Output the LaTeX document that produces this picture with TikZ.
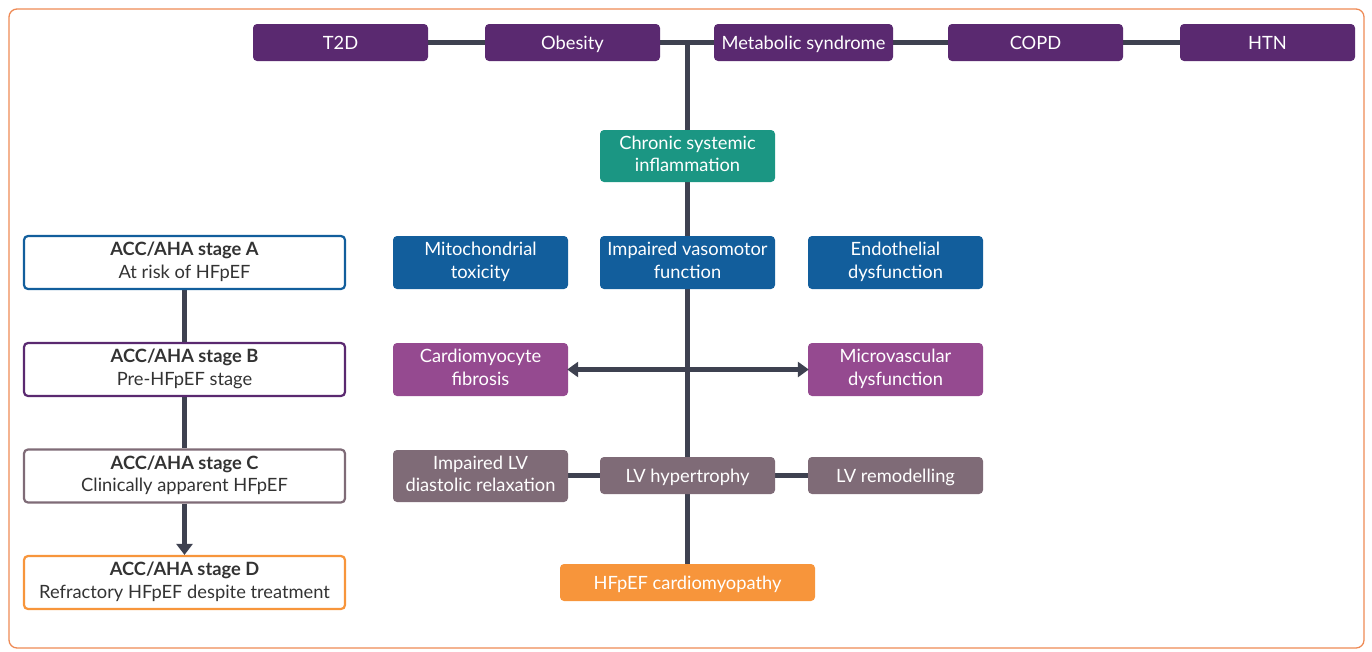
\documentclass[tikz,border=0pt]{standalone}
\usepackage{fontspec}
\setmainfont{Lato}
\usetikzlibrary{arrows.meta,backgrounds}
\definecolor{toppurple}{HTML}{5A2970}
\definecolor{tealc}{HTML}{1B9683}
\definecolor{bluec}{HTML}{125E9C}
\definecolor{pinkc}{HTML}{954A90}
\definecolor{mauvec}{HTML}{7F6B77}
\definecolor{orangec}{HTML}{F7953B}
\definecolor{linec}{HTML}{3E4150}
\definecolor{framec}{HTML}{EE8A55}
\definecolor{textc}{HTML}{333333}
\newcommand\mystrut{\rule[-4.75pt]{0pt}{22.5pt}}
\tikzset{
  box/.style={rounded corners=4pt, text=white, align=center, inner sep=0pt,
    font=\fontsize{18.3}{22.5}\selectfont,
    execute at begin node=\mystrut, execute at end node=\mystrut},
  stagebox/.style={rounded corners=4pt, draw=#1, line width=2.2pt, fill=white, text=textc,
    align=center, inner sep=0pt, minimum width=321pt, minimum height=53pt,
    font=\fontsize{18.3}{22.5}\selectfont,
    execute at begin node=\mystrut, execute at end node=\mystrut},
  conn/.style={draw=linec, line width=5pt},
}
\begin{document}
\begin{tikzpicture}[x=1pt,y=-1pt]
\useasboundingbox (0,0) rectangle (1372,651);
\draw[framec, line width=1.3pt, rounded corners=8pt] (9,9) rectangle (1364,648);
% top row
\foreach \n/\t/\x in {t2d/T2D/340.5, obes/Obesity/572.5, copd/COPD/1035.5, htn/HTN/1267.5}
  \node[box, fill=toppurple, minimum width=175pt, minimum height=37pt] (\n) at (\x,42.5) {\t};
\node[box, fill=toppurple, minimum width=179pt, minimum height=37pt] (ms) at (803.5,42.5) {Metabolic syndrome};
\node[box, fill=tealc, minimum width=175pt, minimum height=52pt] (chronic) at (687.5,156) {Chronic systemic\\inflammation};
% blue row
\node[box, fill=bluec, minimum width=175pt, minimum height=53pt] (mito) at (480.5,262.5) {Mitochondrial\\toxicity};
\node[box, fill=bluec, minimum width=175pt, minimum height=53pt] (vaso) at (687.5,262.5) {Impaired vasomotor\\function};
\node[box, fill=bluec, minimum width=175pt, minimum height=53pt] (endo) at (895.5,262.5) {Endothelial\\dysfunction};
% pink row
\node[box, fill=pinkc, minimum width=175pt, minimum height=53pt] (cardio) at (480.5,369.5) {Cardiomyocyte\\fibrosis};
\node[box, fill=pinkc, minimum width=175pt, minimum height=53pt] (micro) at (895.5,369.5) {Microvascular\\dysfunction};
% mauve row
\node[box, fill=mauvec, minimum width=175pt, minimum height=52pt] (ilv) at (480.5,476) {Impaired LV\\diastolic relaxation};
\node[box, fill=mauvec, minimum width=175pt, minimum height=37pt] (lvh) at (687.5,475.5) {LV hypertrophy};
\node[box, fill=mauvec, minimum width=175pt, minimum height=37pt] (lvr) at (895.5,475.5) {LV remodelling};
\node[box, fill=orangec, minimum width=255pt, minimum height=37pt] (hfpef) at (687.5,582.5) {HFpEF cardiomyopathy};
% stages
\node[stagebox=bluec] (sa) at (184.5,262.5) {\textbf{ACC/AHA stage A}\\At risk of HFpEF};
\node[stagebox=toppurple] (sb) at (184.5,369.5) {\textbf{ACC/AHA stage B}\\Pre-HFpEF stage};
\node[stagebox=mauvec] (sc) at (184.5,476) {\textbf{ACC/AHA stage C}\\Clinically apparent HFpEF};
\node[stagebox=orangec] (sd) at (184.5,582.5) {\textbf{ACC/AHA stage D}\\Refractory HFpEF despite treatment};
\begin{scope}[on background layer]
  \draw[conn] (t2d) -- (obes) -- (ms) -- (copd) -- (htn);
  \coordinate (junc) at (chronic.north |- obes.east);
  \draw[conn] (junc) -- (chronic.north);
  \draw[conn] (chronic) -- (vaso) -- (lvh) -- (hfpef);
  \draw[conn] (ilv.east |- lvh.west) -- (lvh) -- (lvr);
  \draw[conn] (sa) -- (sb) -- (sc);
\end{scope}
\draw[conn, {Triangle[length=11pt,width=15pt]}-{Triangle[length=11pt,width=15pt]}, shorten <=-1pt, shorten >=-1pt] (cardio.east) -- (micro.west);
\draw[conn, -{Triangle[length=11pt,width=16pt]}] (sc.south) -- (sd.north);
\end{tikzpicture}
\end{document}
